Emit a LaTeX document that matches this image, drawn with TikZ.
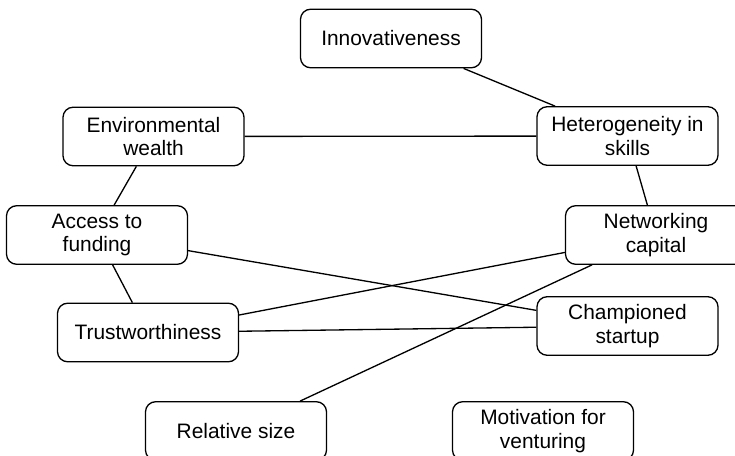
\documentclass[tikz,border=0pt]{standalone}
\usepackage{fontspec}
\setmainfont{Liberation Sans}
\usepackage{tikz}
\usetikzlibrary{positioning, calc}

\begin{document}
\begin{tikzpicture}[
				x=0.02cm, y=-0.02cm,
				% --- ESTILOS ---
				factorblock/.style={
					rectangle, draw, rounded corners=0.2cm, line width=0.75pt,
					minimum width=3.62cm, minimum height=1.17cm, align=center,
					inner sep=0pt, font=\fontsize{11.9}{13.4}\selectfont
				},
				link/.style={
					draw, line width=0.75pt
				}
				]
				
				% marco del dibujo
				\useasboundingbox (0,0) rectangle (735,456);
				
				% --- 1. Bloques de la izquierda ---
				\node [factorblock] (env_wealth) at (153.5,136.5) {Environmental\\wealth};
				\node [factorblock] (access) at (97,235) {Access to\\funding};
				\node [factorblock] (trust) at (148,332.5) {Trustworthiness};
				\node [factorblock] (rel_size) at (236,431) {Relative size};
				
				% --- 2. Bloques de la derecha ---
				\node [factorblock] (innov) at (391,38.5) {Innovativeness};
				\node [factorblock] (hetero) at (627.5,136) {Heterogeneity in\\skills};
				\node [factorblock] (net_cap) at (656,235) {Networking\\capital};
				\node [factorblock] (champ) at (627.5,326) {Championed\\startup};
				\node [factorblock] (motiv) at (543,431) {Motivation for\\venturing};
				
				% --- 3. Conexiones ---
				\draw [link] (innov) -- (hetero);
				\draw [link] (env_wealth) -- (hetero);
				\draw [link] (env_wealth) -- (access);
				\draw [link] (hetero) -- (net_cap);
				\draw [link] (access) -- (trust);
				\draw [link] (access) -- (champ);
				\draw [link] (trust) -- (net_cap);
				\draw [link] (trust) -- (champ);
				\draw [link] (rel_size) -- (net_cap);
				
			\end{tikzpicture}
\end{document}
